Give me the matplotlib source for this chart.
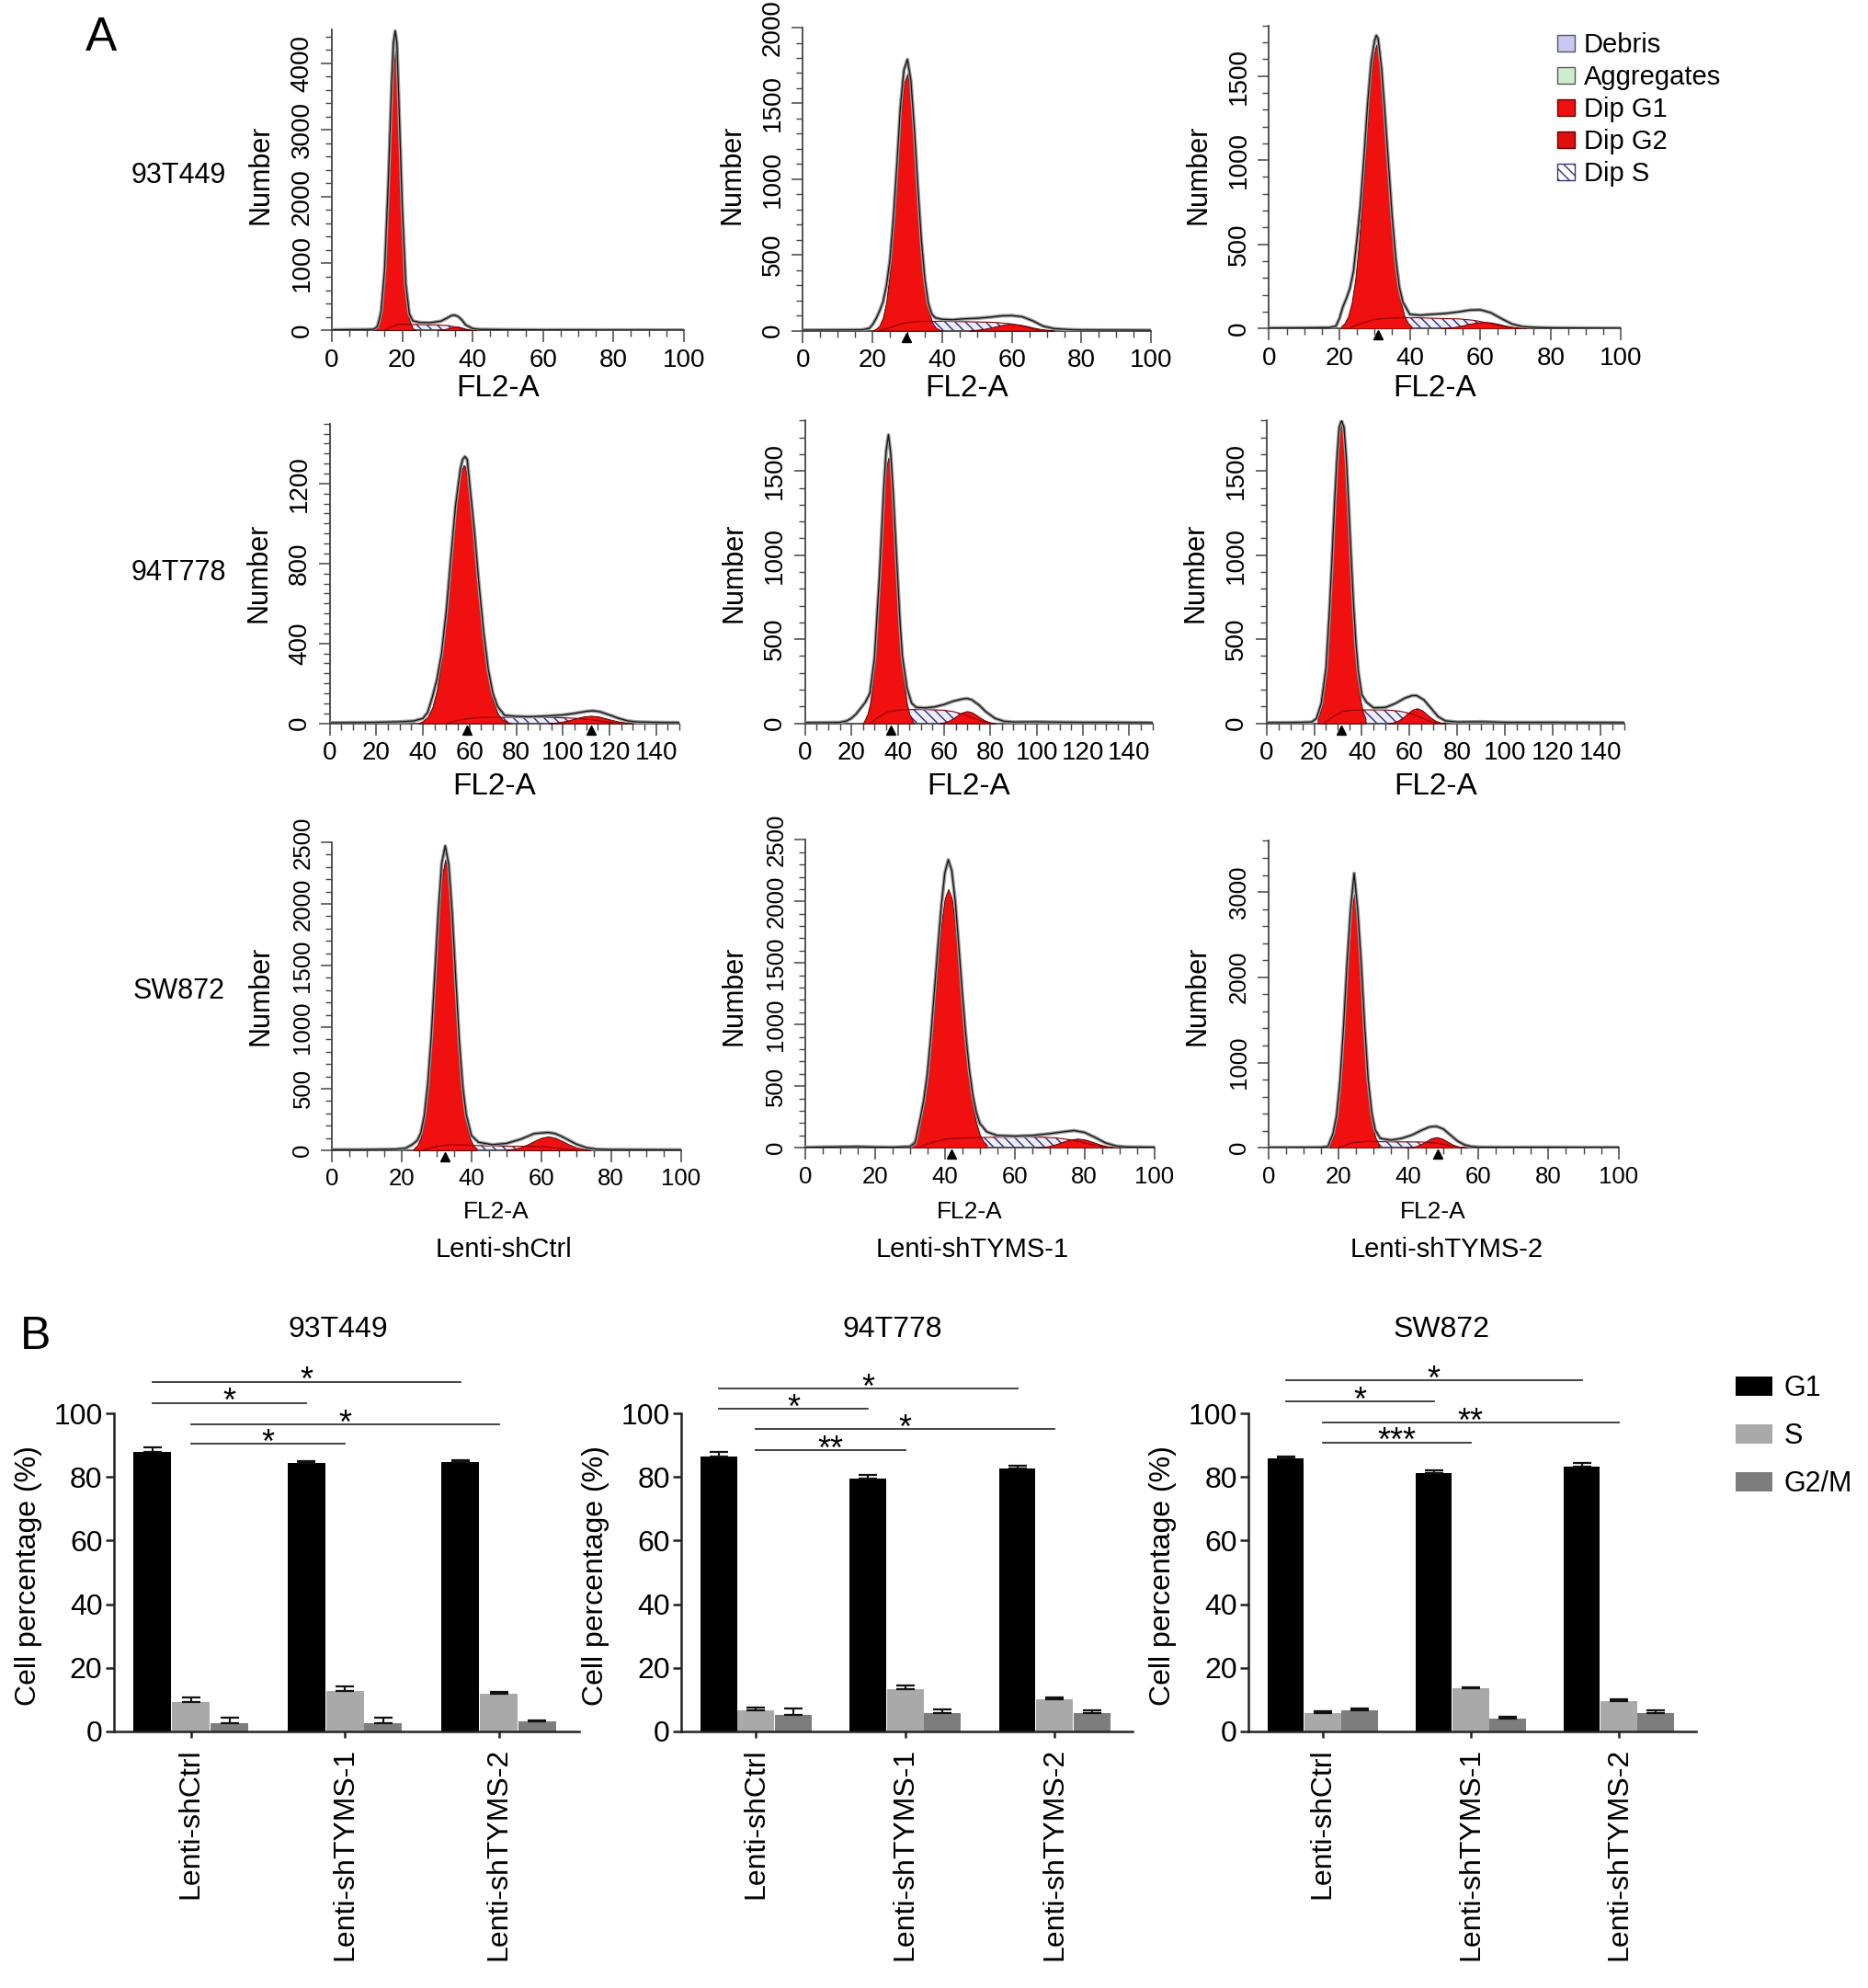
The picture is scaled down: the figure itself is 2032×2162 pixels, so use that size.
import numpy as np
import matplotlib
matplotlib.use('Agg')
import matplotlib.pyplot as plt
from matplotlib import font_manager
from matplotlib.patches import Patch
from matplotlib.ticker import MultipleLocator
import matplotlib.transforms as mtransforms
import matplotlib.patheffects as pe

avail = {f.name for f in font_manager.fontManager.ttflist}
NARROW = 'Liberation Sans Narrow' if 'Liberation Sans Narrow' in avail else 'Liberation Sans'
plt.rcParams['font.family'] = ['Liberation Sans', 'DejaVu Sans']
plt.rcParams['hatch.linewidth'] = 1.0

# ---------------- DATA: flow cytometry histograms (counts vs FL2-A) ----------------
row_labels = ['93T449', '94T778', 'SW872']
conditions = ['Lenti-shCtrl', 'Lenti-shTYMS-1', 'Lenti-shTYMS-2']

# 93T449 / Lenti-shCtrl
p11_data_x = [0,5,10,12,13,14,15,16,17,17.5,18,18.5,19,20,21,22,23,25,28,31,33,34,35,36,37,38,40,42,50,60,70,80,90,100]
p11_data_y = [5,8,10,15,60,280,900,2150,3700,4300,4480,4300,3500,1850,700,250,140,115,112,135,190,220,225,200,150,80,25,12,8,5,5,3,3,2]
p11_g1_x = [12,13,14,15,16,17,18,19,20,21,22,23,24]
p11_g1_y = [0,39,214,810,2070,3587,4192,3313,1781,640,158,26,0]
p11_g2_x = [30,31,32,33,34,35,36,37,38,39,40,41]
p11_g2_y = [0,5,14,28,45,54,52,38,22,10,3,0]
p11_s_x = [15,17,19,22,26,30,33,36,38]
p11_s_y = [0,50,90,88,82,78,70,40,0]
p11_tri = []

# 93T449 / Lenti-shTYMS-1
p12_data_x = [0,10,17,19,20,21,22,23,24,25,26,27,28,29,30,31,32,33,34,35,36,37,38,40,43,46,50,54,57,60,63,66,69,72,76,80,90,100]
p12_data_y = [4,5,6,15,40,80,130,190,300,470,750,1100,1480,1720,1790,1650,1330,950,600,340,180,110,85,75,72,78,82,90,98,100,92,65,30,14,8,5,4,3]
p12_g1_x = [20,21,22,23,24,25,26,27,28,29,30,31,32,33,34,35,36,37,38,39,40]
p12_g1_y = [0,12,35,89,199,393,675,1031,1382,1631,1696,1551,1246,886,552,302,147,62,23,8,0]
p12_g2_x = [48,50,52,54,56,58,60,62,64,66,68,70,72]
p12_g2_y = [2,6,12,21,32,41,44,41,32,21,12,6,2]
p12_s_x = [22,25,28,32,36,40,45,50,55,60,64,68]
p12_s_y = [0,20,45,60,62,62,60,58,55,45,25,0]
p12_tri = [29.8]

# 93T449 / Lenti-shTYMS-2
p13_data_x = [0,10,17,19,20,21,22,23,24,25,26,27,28,29,30,30.5,31,32,33,34,35,36,37,38,40,43,46,50,54,57,60,63,66,69,72,76,80,90,100]
p13_data_y = [4,5,6,15,60,130,180,240,340,530,740,1020,1330,1580,1710,1740,1720,1540,1260,960,660,420,250,160,85,80,85,90,100,110,112,95,60,28,12,7,5,4,3]
p13_g1_x = [20.5,21.5,22.5,23.5,24.5,25.5,26.5,27.5,28.5,29.5,30.5,31.5,32.5,33.5,34.5,35.5,36.5,37.5,38.5,39.5,40.5]
p13_g1_y = [13,33,74,154,290,497,772,1085,1387,1604,1685,1604,1387,1085,772,497,290,154,74,33,13]
p13_g2_x = [49,51,53,55,57,59,61,63,65,67,69,71,73]
p13_g2_y = [2,5,11,19,29,37,40,37,29,19,11,5,2]
p13_s_x = [22,26,30,34,38,42,46,50,54,58,62,66,70]
p13_s_y = [0,30,55,62,65,65,62,60,58,50,35,15,0]
p13_tri = [31]

# 94T778 / Lenti-shCtrl
p21_data_x = [0,10,20,30,36,40,42,44,46,48,50,52,54,56,57,58,59,60,62,64,66,68,70,72,75,80,85,90,95,100,105,110,113,116,120,124,128,132,140,150]
p21_data_y = [3,4,5,8,12,25,55,130,220,350,560,830,1090,1270,1320,1335,1320,1200,970,700,460,270,150,85,40,35,33,35,38,42,50,60,63,58,42,25,12,7,5,4]
p21_g1_x = [38,40,42,44,46,48,50,52,54,56,57.5,58,60,62,64,66,68,70,72,74,76,78]
p21_g1_y = [0,12,32,78,168,322,541,811,1070,1248,1292,1287,1173,947,675,425,237,117,51,20,7,0]
p21_g2_x = [94,97,100,103,106,109,112,115,118,121,124,127,130]
p21_g2_y = [1,4,9,17,26,35,38,35,26,17,9,4,1]
p21_s_x = [50,55,60,65,70,75,80,90,100,106,112,118,124]
p21_s_y = [0,15,25,30,30,30,30,30,28,25,18,8,0]
p21_tri = [59, 112]

# 94T778 / Lenti-shTYMS-1
p22_data_x = [0,10,15,18,20,22,24,26,28,30,32,33,34,35,36,37,38,39,40,41,42,44,46,48,52,56,60,64,68,70,72,75,78,82,86,90,100,110,120,130,140,150]
p22_data_y = [4,5,6,15,30,55,90,125,180,390,850,1120,1400,1620,1715,1600,1380,1120,860,600,400,210,120,95,92,98,112,132,145,148,140,110,70,30,12,8,9,7,6,6,5,4]
p22_g1_x = [25,26,27,28,29,30,31,32,33,34,35,36,37,38,39,40,41,42,43,44,45,46,47]
p22_g1_y = [0,27,58,116,214,364,569,822,1094,1342,1517,1580,1517,1342,1094,822,569,364,214,116,58,27,0]
p22_g2_x = [58,60,62,64,66,68,70,72,74,76,78,80,82]
p22_g2_y = [2,6,15,30,49,66,73,66,49,30,15,6,2]
p22_s_x = [28,32,36,40,44,48,52,56,60,64,68,72,76,80]
p22_s_y = [0,40,70,78,82,82,82,80,78,70,55,35,15,0]
p22_tri = [37]

# 94T778 / Lenti-shTYMS-2
p23_data_x = [0,10,15,19,21,23,25,26.5,27.5,28.5,29.5,30.5,31.5,32.5,33.5,34.5,35.5,36.5,37.5,38.5,40,42,45,50,54,58,61,63,66,69,72,75,80,90,100,110,120,130,140,150]
p23_data_y = [4,5,6,8,30,120,330,690,980,1290,1560,1760,1800,1760,1570,1290,990,710,480,310,170,125,92,95,118,150,165,165,140,90,40,15,8,10,6,6,6,5,5,4]
p23_g1_x = [21.5,22.5,23.5,24.5,25.5,26.5,27.5,28.5,29.5,30.5,31.5,32.5,33.5,34.5,35.5,36.5,37.5,38.5,39.5,40.5,41.5]
p23_g1_y = [30,66,131,242,412,645,932,1240,1520,1718,1790,1718,1520,1240,932,645,412,242,131,66,30]
p23_g2_x = [51,53,55,57,59,61,63,65,67,69,71,73,75]
p23_g2_y = [2,5,15,32,57,80,90,80,57,32,15,5,2]
p23_s_x = [24,28,32,36,40,44,48,52,56,60,64,68,72]
p23_s_y = [0,40,72,78,80,80,80,78,72,60,40,15,0]
p23_tri = [31.5]

# SW872 / Lenti-shCtrl
p31_data_x = [0,10,18,21,23,24.5,25.5,26.5,27.5,28.5,29.5,30.5,31.5,32.5,33.5,34.5,35.5,36.5,37.5,38.5,40,42,46,50,54,58,60,62,64,66,70,73,76,80,90,100]
p31_data_y = [4,5,8,15,45,80,140,280,540,920,1420,1930,2330,2470,2320,1920,1400,900,520,290,120,65,45,55,88,135,140,144,135,110,50,20,8,5,4,3]
p31_g1_x = [23.5,24.5,25.5,26.5,27.5,28.5,29.5,30.5,31.5,32.5,33.5,34.5,35.5,36.5,37.5,38.5,39.5,40.5,41.5]
p31_g1_y = [13,40,104,238,479,850,1329,1829,2214,2360,2214,1829,1329,850,479,238,104,40,13]
p31_g2_x = [50,52,54,56,58,60,62,64,66,68,70,72,74]
p31_g2_y = [3,10,23,46,75,101,112,101,75,46,23,10,3]
p31_s_x = [26,30,34,38,42,46,50,54,58,62,66,70]
p31_s_y = [0,30,45,42,38,35,33,32,30,25,12,0]
p31_tri = [32.3]

# SW872 / Lenti-shTYMS-1
p32_data_x = [0,10,15,20,25,30,31.5,33,34,35,36,37,38,39,40,41,42,43,44,45,46,47,48,49,50,52,55,60,65,70,74,77,80,83,86,89,92,100]
p32_data_y = [4,8,10,6,5,10,40,240,390,600,900,1260,1620,1960,2230,2338,2250,2000,1640,1260,920,640,430,290,200,130,100,95,100,115,130,140,125,85,40,15,7,5]
p32_g1_x = [30,31,32,33,34,35,36,37,38,39,40,41,42,43,44,45,46,47,48,49,50,51,52]
p32_g1_y = [25,54,109,203,350,563,843,1169,1512,1814,2024,2100,2024,1814,1512,1169,843,563,350,203,109,54,25]
p32_g2_x = [66,68,70,72,74,76,78,80,82,84,86,88,90]
p32_g2_y = [2,6,15,31,51,68,75,68,51,31,15,6,2]
p32_s_x = [32,36,40,44,48,52,56,60,64,68,72,76,80,84,88]
p32_s_y = [0,40,70,78,82,85,86,87,87,86,80,65,40,15,0]
p32_tri = [41.8]

# SW872 / Lenti-shTYMS-2
p33_data_x = [0,10,15,17,18.5,19.5,20.5,21.5,22.5,23.5,24.5,25.5,26.5,27.5,28.5,29.5,30.5,32,35,38,41,44,46,48,50,52,54,56,58,60,70,80,90,100]
p33_data_y = [4,5,6,15,170,380,800,1430,2180,2800,3219,2800,2180,1430,800,420,210,110,90,110,150,210,245,252,220,150,80,35,15,8,6,7,5,5]
p33_g1_x = [17.5,18.5,19.5,20.5,21.5,22.5,23.5,24.5,25.5,26.5,27.5,28.5,29.5,30.5,31.5]
p33_g1_y = [42,130,339,740,1359,2100,2724,2970,2724,2100,1359,740,339,130,42]
p33_g2_x = [39,40.5,42,43.5,45,46.5,48,49.5,51,52.5,54,55.5,57]
p33_g2_y = [1,5,17,41,76,111,126,111,76,41,17,5,1]
p33_s_x = [20,24,28,32,36,40,44,48,52,56]
p33_s_y = [0,60,75,72,70,70,68,55,25,0]
p33_tri = [48.5]

# ---------------- DATA: cell-cycle distribution (%) ----------------
cell_lines = ['93T449', '94T778', 'SW872']
phases = ['G1', 'S', 'G2/M']
g1_pct = [[88.0, 84.4, 84.7], [86.3, 79.5, 82.7], [85.9, 81.3, 83.4]]
g1_err = [[1.4, 0.7, 0.5], [1.6, 1.1, 0.8], [0.6, 0.8, 1.1]]
s_pct = [[9.2, 12.8, 11.8], [6.6, 13.3, 10.1], [5.8, 13.5, 9.6]]
s_err = [[1.4, 1.4, 0.5], [0.8, 1.1, 0.7], [0.5, 0.4, 0.5]]
g2m_pct = [[2.6, 2.6, 3.1], [5.3, 5.9, 5.9], [6.5, 3.9, 5.8]]
g2m_err = [[1.7, 1.7, 0.4], [1.9, 1.1, 0.7], [0.8, 0.6, 0.8]]
sig_comparisons = [('G1', 0, 2), ('G1', 0, 1), ('S', 0, 2), ('S', 0, 1)]
sig_levels = [[110.0, 103.3, 96.6, 90.4], [107.7, 101.4, 95.0, 88.4], [110.3, 103.8, 97.2, 90.9]]
sig_labels = [['*', '*', '*', '*'], ['*', '*', '*', '**'], ['*', '*', '**', '***']]

# ---------------- FIGURE ----------------
W, H = 1475.0, 1569.0
fig = plt.figure(figsize=(20.32, 21.62), dpi=100)


def fx(x):
    return x / W


def fy(y):
    return 1 - y / H


def add_ax(box):
    x0, x1, yb, yt = box
    return fig.add_axes([fx(x0), fy(yb), (x1 - x0) / W, (yb - yt) / H])


def axfrac(box, xd, yd):
    x0, x1, yb, yt = box
    return ((xd - x0) / (x1 - x0), (yb - yd) / (yb - yt))


RED = '#f01010'
EDGE_RED = '#5a0000'
HATCH = '\\\\\\'

hist_panels = [
    # box (disp px), xmax, ymax, ymajor, yminor, data..., row
    ((262, 540, 260.6, 23.4), 100, 4500, 1000, 200, p11_data_x, p11_data_y, p11_g1_x, p11_g1_y, p11_g2_x, p11_g2_y, p11_s_x, p11_s_y, p11_tri, 0),
    ((634, 909, 261.0, 21.8), 100, 2000, 500, 100, p12_data_x, p12_data_y, p12_g1_x, p12_g1_y, p12_g2_x, p12_g2_y, p12_s_x, p12_s_y, p12_tri, 0),
    ((1002, 1280, 259.4, 20.0), 100, 1800, 500, 100, p13_data_x, p13_data_y, p13_g1_x, p13_g1_y, p13_g2_x, p13_g2_y, p13_s_x, p13_s_y, p13_tri, 0),
    ((260.3, 536.5, 570.9, 334.3), 150, 1500, 400, 50, p21_data_x, p21_data_y, p21_g1_x, p21_g1_y, p21_g2_x, p21_g2_y, p21_s_x, p21_s_y, p21_tri, 1),
    ((635.7, 910, 570.9, 331.9), 150, 1800, 500, 100, p22_data_x, p22_data_y, p22_g1_x, p22_g1_y, p22_g2_x, p22_g2_y, p22_s_x, p22_s_y, p22_tri, 1),
    ((1000, 1282.5, 570.9, 331.9), 150, 1800, 500, 100, p23_data_x, p23_data_y, p23_g1_x, p23_g1_y, p23_g2_x, p23_g2_y, p23_s_x, p23_s_y, p23_tri, 1),
    ((262, 537.6, 907.8, 664.7), 100, 2500, 500, 100, p31_data_x, p31_data_y, p31_g1_x, p31_g1_y, p31_g2_x, p31_g2_y, p31_s_x, p31_s_y, p31_tri, 2),
    ((635.7, 911.5, 905.9, 662.8), 100, 2500, 500, 100, p32_data_x, p32_data_y, p32_g1_x, p32_g1_y, p32_g2_x, p32_g2_y, p32_s_x, p32_s_y, p32_tri, 2),
    ((1001.5, 1278, 905.9, 663.6), 100, 3600, 1000, 200, p33_data_x, p33_data_y, p33_g1_x, p33_g1_y, p33_g2_x, p33_g2_y, p33_s_x, p33_s_y, p33_tri, 2),
]

xlabel_y = [306.5, 621.0, 956.5]
ylabel_y = [138.0, 452.0, 786.0]

for (box, xmax, ymax, ymaj, ymin_, dx, dy, g1x, g1y, g2x, g2y, sx, sy, tri, row) in hist_panels:
    ax = add_ax(box)
    ax.set_xlim(0, xmax)
    ax.set_ylim(0, ymax)
    ax.patch.set_alpha(0)
    for sp in ['top', 'right']:
        ax.spines[sp].set_visible(False)
    for sp in ['left', 'bottom']:
        ax.spines[sp].set_color('#444444')
        ax.spines[sp].set_linewidth(1.3)
    ax.fill_between(sx, 0, sy, facecolor='#eeeefa', edgecolor='#2b2b80', hatch=HATCH, linewidth=0, zorder=2)
    ax.fill_between(g2x, 0, g2y, facecolor=RED, edgecolor=EDGE_RED, linewidth=0.7, zorder=3)
    ax.fill_between(g1x, 0, g1y, facecolor=RED, edgecolor=EDGE_RED, linewidth=0.7, zorder=3)
    ax.plot(sx, sy, color='#8a0000', lw=0.8, zorder=4)
    ax.plot(dx, dy, color='#111111', lw=0.9, zorder=5,
            path_effects=[pe.Stroke(linewidth=2.8, foreground='#9a9a9a'), pe.Normal()])
    if tri:
        trans = mtransforms.offset_copy(ax.transData, fig=fig, x=0, y=-7, units='dots')
        ax.plot(tri, [0] * len(tri), linestyle='none', marker='^', color='black',
                markersize=7, transform=trans, clip_on=False, zorder=6)
    ax.xaxis.set_major_locator(MultipleLocator(20))
    ax.xaxis.set_minor_locator(MultipleLocator(5))
    ax.yaxis.set_major_locator(MultipleLocator(ymaj))
    ax.yaxis.set_minor_locator(MultipleLocator(ymin_))
    tsize = 18.5 if row == 2 else 20
    ax.tick_params(which='major', length=9, width=1.1, color='#444444', direction='out',
                   pad=5, labelsize=tsize, labelfontfamily=NARROW)
    ax.tick_params(which='minor', length=5, width=1.0, color='#444444', direction='out')
    ax.tick_params(axis='y', labelrotation=90)
    for lab in ax.get_yticklabels():
        lab.set_va('center')
    if row == 2:
        ax.set_xlabel('FL2-A', fontsize=19)
    else:
        ax.set_xlabel('FL2-A', fontsize=24, fontfamily=NARROW)
    ax.xaxis.label.set_va('center')
    ax.xaxis.set_label_coords(*axfrac(box, (box[0] + box[1]) / 2 - 8, xlabel_y[row]))
    ax.set_ylabel('Number', fontsize=22)
    ax.yaxis.label.set_va('center')
    ax.yaxis.set_label_coords(*axfrac(box, box[0] - 56, ylabel_y[row]))

# row labels and condition labels
for lab, yd in zip(row_labels, [138.5, 452.0, 782.0]):
    fig.text(fx(141), fy(yd), lab, fontsize=22, ha='center', va='center')
for lab, xd in zip(conditions, [398, 768, 1142]):
    fig.text(fx(xd), fy(986), lab, fontsize=21, ha='center', va='center')

fig.text(fx(79.6), fy(30), 'A', fontsize=37, ha='center', va='center')
fig.text(fx(28), fy(1055), 'B', fontsize=36, ha='center', va='center')

# histogram legend
hist_handles = [
    Patch(facecolor='#c8c8f2', edgecolor='#555555', label='Debris'),
    Patch(facecolor='#cdeecd', edgecolor='#555555', label='Aggregates'),
    Patch(facecolor=RED, edgecolor='#600000', label='Dip G1'),
    Patch(facecolor='#e01010', edgecolor='#600000', label='Dip G2'),
    Patch(facecolor='white', edgecolor='#33337a', hatch=HATCH, label='Dip S'),
]
fig.legend(handles=hist_handles, loc='upper left', bbox_to_anchor=(1694 / 2032, 1 - 35 / 2162),
           frameon=False, fontsize=21, handlelength=0.64, handleheight=0.58, handletextpad=0.35,
           labelspacing=0.24, borderpad=0, borderaxespad=0)

# ---------------- bar charts ----------------
bar_boxes = [(90, 457, 1366.5, 1115.5), (538, 894, 1366.5, 1115.5), (986, 1339, 1366.5, 1115.5)]
bar_title_x = [267, 705, 1138]
phase_offset = {'G1': -0.25, 'S': 0.0, 'G2/M': 0.25}
bar_w = 0.245
bar_colors = {'G1': '#000000', 'S': '#a9a9a9', 'G2/M': '#7d7d7d'}

for i, box in enumerate(bar_boxes):
    ax = add_ax(box)
    ax.patch.set_alpha(0)
    x = np.arange(len(conditions))
    vals = {'G1': (g1_pct[i], g1_err[i]), 'S': (s_pct[i], s_err[i]), 'G2/M': (g2m_pct[i], g2m_err[i])}
    for ph in phases:
        v, e = vals[ph]
        xp = x + phase_offset[ph]
        ax.bar(xp, v, bar_w, color=bar_colors[ph], zorder=2)
        ax.errorbar(xp, v, yerr=[np.zeros(len(v)), e], fmt='none', ecolor='#111111',
                    elinewidth=1.5, capsize=7, capthick=1.6, zorder=3)
    ax.set_xlim(-0.5, 2.52)
    ax.set_ylim(0, 100)
    for sp in ['top', 'right']:
        ax.spines[sp].set_visible(False)
    for sp in ['left', 'bottom']:
        ax.spines[sp].set_color('#222222')
        ax.spines[sp].set_linewidth(1.8)
    ax.set_yticks(np.arange(0, 101, 20))
    ax.set_xticks(x)
    ax.set_xticklabels(conditions, rotation=90, ha='center', va='top')
    ax.tick_params(axis='y', length=6.5, width=1.8, color='#222222', pad=2.5, labelsize=23)
    ax.tick_params(axis='x', length=5, width=1.8, color='#222222', pad=8, labelsize=23)
    ax.set_ylabel('Cell percentage (%)', fontsize=23)
    ax.yaxis.label.set_va('center')
    ax.yaxis.set_label_coords(*axfrac(box, box[0] - 67.5, 1243.5))
    for j, (ph, a, b) in enumerate(sig_comparisons):
        xa = a + phase_offset[ph]
        xb = b + phase_offset[ph]
        yv = sig_levels[i][j]
        ax.plot([xa, xb], [yv, yv], color='#333333', lw=1.3, clip_on=False)
        ax.annotate(sig_labels[i][j], xy=((xa + xb) / 2, yv), xytext=(0, -7),
                    textcoords='offset points', ha='center', va='baseline',
                    fontsize=26, annotation_clip=False)
    fig.text(fx(bar_title_x[i]), fy(1049.5), cell_lines[i], fontsize=23, ha='center', va='center')

bar_handles = [Patch(facecolor=bar_colors[p], edgecolor='none', label=p) for p in phases]
fig.legend(handles=bar_handles, loc='upper left', bbox_to_anchor=(1888 / 2032, 1 - 1495 / 2162),
           frameon=False, fontsize=22, handlelength=1.31, handleheight=0.67, handletextpad=0.41,
           labelspacing=0.72, borderpad=0, borderaxespad=0)

fig.savefig('out.png', dpi=100)
